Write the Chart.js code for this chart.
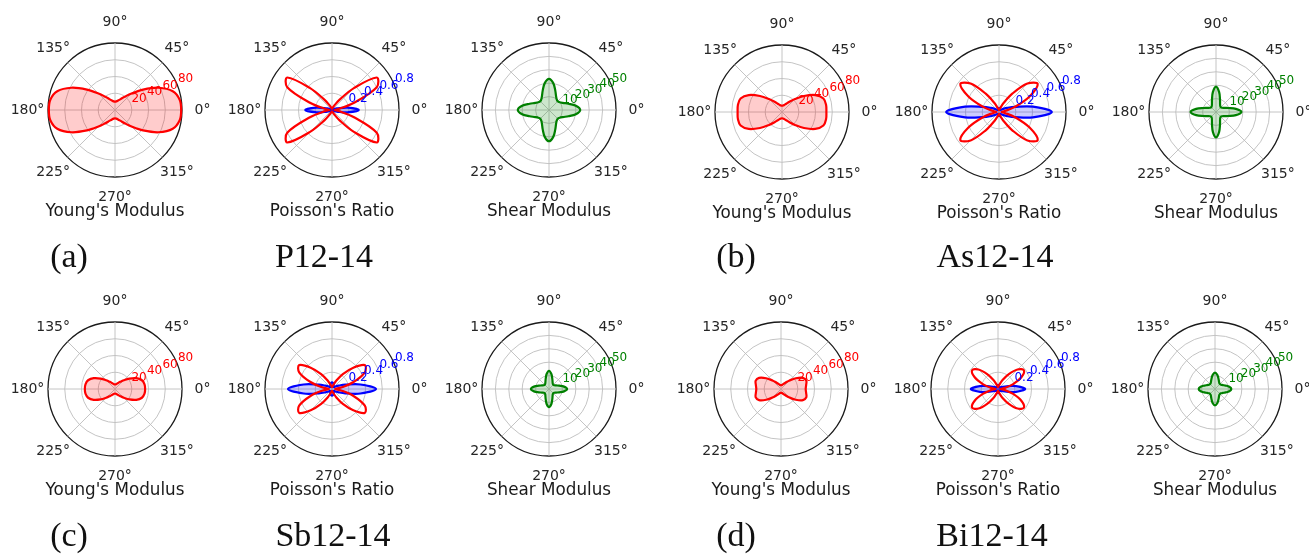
<!DOCTYPE html>
<html>
<head>
<meta charset="utf-8">
<script src="https://cdn.jsdelivr.net/npm/chart.js@4.4.1/dist/chart.umd.min.js"></script>
<style>
  html, body { margin: 0; padding: 0; background: #fff; }
  #figure { position: relative; width: 1309px; height: 554px; overflow: hidden; background: #fff; }
  #figure canvas { position: absolute; }
  .title { position: absolute; font-family: 'DejaVu Sans', sans-serif; font-size: 16.8px; line-height: 20px;
           color: #1a1a1a; white-space: nowrap; transform: translateX(-50%); }
  .tag { position: absolute; font-family: 'Liberation Serif', 'Times New Roman', serif; font-size: 34px;
         line-height: 40px; color: #111; white-space: nowrap; transform: translateX(-50%); }
</style>
</head>
<body>
<div id="figure"></div>
<script>
// Polar angle of each sample, counter-clockwise from 0°, every 9°
const thetaDeg = [0, 9, 18, 27, 36, 45, 54, 63, 72, 81, 90, 99, 108, 117, 126, 135, 144, 153, 162, 171,
                  180, 189, 198, 207, 216, 225, 234, 243, 252, 261, 270, 279, 288, 297, 306, 315, 324, 333, 342, 351];

// Angular tick labels
const angleTickDeg = [0, 45, 90, 135, 180, 225, 270, 315];
const angleTickLabels = ['0°', '45°', '90°', '135°', '180°', '225°', '270°', '315°'];

// Radial tick labels
const youngTicks = [20, 40, 60, 80];
const poissonTicks = [0.2, 0.4, 0.6, 0.8];
const shearTicks = [10, 20, 30, 40, 50];

// Young's modulus E(θ)
const youngP = [79, 78.2, 72.5, 58.5, 41.5, 28, 19.5, 14.6, 11.9, 10.4, 10, 10.4, 11.9, 14.6, 19.5, 28, 41.5, 58.5, 72.5, 78.2,
                79, 78.2, 72.5, 58.5, 41.5, 28, 19.5, 14.6, 11.9, 10.4, 10, 10.4, 11.9, 14.6, 19.5, 28, 41.5, 58.5, 72.5, 78.2];
const youngAs = [53, 53.3, 52, 44.5, 32.5, 22, 15.1, 11.1, 8.9, 7.8, 7.5, 7.8, 8.9, 11.1, 15.1, 22, 32.5, 44.5, 52, 53.3,
                 53, 53.3, 52, 44.5, 32.5, 22, 15.1, 11.1, 8.9, 7.8, 7.5, 7.8, 8.9, 11.1, 15.1, 22, 32.5, 44.5, 52, 53.3];
const youngSb = [36, 35.7, 33.8, 28.5, 21.2, 14.8, 10.6, 8, 6.5, 5.7, 5.5, 5.7, 6.5, 8, 10.6, 14.8, 21.2, 28.5, 33.8, 35.7,
                 36, 35.7, 33.8, 28.5, 21.2, 14.8, 10.6, 8, 6.5, 5.7, 5.5, 5.7, 6.5, 8, 10.6, 14.8, 21.2, 28.5, 33.8, 35.7];
const youngBi = [29.5, 30.4, 31.8, 29.3, 21.9, 14.5, 9.6, 6.9, 5.4, 4.7, 4.5, 4.7, 5.4, 6.9, 9.6, 14.5, 21.9, 29.3, 31.8, 30.4,
                 29.5, 30.4, 31.8, 29.3, 21.9, 14.5, 9.6, 6.9, 5.4, 4.7, 4.5, 4.7, 5.4, 6.9, 9.6, 14.5, 21.9, 29.3, 31.8, 30.4];

// Poisson's ratio, positive part
const poissonPosP = [0.03, 0.08, 0.27, 0.6, 0.66, 0.37, 0.15, 0.06, 0.03, 0.02, 0.015, 0.02, 0.03, 0.06, 0.15, 0.37, 0.66, 0.6, 0.27, 0.08,
                     0.03, 0.08, 0.27, 0.6, 0.66, 0.37, 0.15, 0.06, 0.03, 0.02, 0.015, 0.02, 0.03, 0.06, 0.15, 0.37, 0.66, 0.6, 0.27, 0.08];
const poissonPosAs = [0.03, 0.07, 0.2, 0.41, 0.571, 0.48, 0.27, 0.12, 0.05, 0.03, 0.02, 0.03, 0.05, 0.12, 0.27, 0.48, 0.571, 0.41, 0.2, 0.07,
                      0.03, 0.07, 0.2, 0.41, 0.571, 0.48, 0.27, 0.12, 0.05, 0.03, 0.02, 0.03, 0.05, 0.12, 0.27, 0.48, 0.571, 0.41, 0.2, 0.07];
const poissonPosSb = [0.035, 0.11, 0.27, 0.44, 0.485, 0.36, 0.22, 0.11, 0.05, 0.03, 0.022, 0.03, 0.05, 0.11, 0.22, 0.36, 0.485, 0.44, 0.27, 0.11,
                      0.035, 0.11, 0.27, 0.44, 0.485, 0.36, 0.22, 0.11, 0.05, 0.03, 0.022, 0.03, 0.05, 0.11, 0.22, 0.36, 0.485, 0.44, 0.27, 0.11];
const poissonPosBi = [0.028, 0.085, 0.19, 0.315, 0.382, 0.33, 0.22, 0.12, 0.055, 0.03, 0.022, 0.03, 0.055, 0.12, 0.22, 0.33, 0.382, 0.315, 0.19, 0.085,
                      0.028, 0.085, 0.19, 0.315, 0.382, 0.33, 0.22, 0.12, 0.055, 0.03, 0.022, 0.03, 0.055, 0.12, 0.22, 0.33, 0.382, 0.315, 0.19, 0.085];

// Poisson's ratio, magnitude of the negative part
const poissonNegP = [0.32, 0.185, 0.06, 0.027, 0.015, 0.009, 0.005, 0.003, 0, 0, 0, 0, 0, 0.003, 0.005, 0.009, 0.015, 0.027, 0.06, 0.185,
                     0.32, 0.185, 0.06, 0.027, 0.015, 0.009, 0.005, 0.003, 0, 0, 0, 0, 0, 0.003, 0.005, 0.009, 0.015, 0.027, 0.06, 0.185];
const poissonNegAs = [0.63, 0.41, 0.2, 0.108, 0.064, 0.04, 0.026, 0.028, 0.037, 0.046, 0.05, 0.046, 0.037, 0.028, 0.026, 0.04, 0.064, 0.108, 0.2, 0.41,
                      0.63, 0.41, 0.2, 0.108, 0.064, 0.04, 0.026, 0.028, 0.037, 0.046, 0.05, 0.046, 0.037, 0.028, 0.026, 0.04, 0.064, 0.108, 0.2, 0.41];
const poissonNegSb = [0.525, 0.343, 0.166, 0.088, 0.052, 0.032, 0.032, 0.044, 0.059, 0.074, 0.08, 0.074, 0.059, 0.044, 0.032, 0.032, 0.052, 0.088, 0.166, 0.343,
                      0.525, 0.343, 0.166, 0.088, 0.052, 0.032, 0.032, 0.044, 0.059, 0.074, 0.08, 0.074, 0.059, 0.044, 0.032, 0.032, 0.052, 0.088, 0.166, 0.343];
const poissonNegBi = [0.325, 0.217, 0.107, 0.057, 0.034, 0.021, 0.02, 0.028, 0.037, 0.046, 0.05, 0.046, 0.037, 0.028, 0.02, 0.021, 0.034, 0.057, 0.107, 0.217,
                      0.325, 0.217, 0.107, 0.057, 0.034, 0.021, 0.02, 0.028, 0.037, 0.046, 0.05, 0.046, 0.037, 0.028, 0.02, 0.021, 0.034, 0.057, 0.107, 0.217];

// Shear modulus G(θ)
const shearP = [23.3, 20.3, 15.2, 11.6, 9.8, 9.2, 9.8, 11.6, 15.2, 20.3, 23.3, 20.3, 15.2, 11.6, 9.8, 9.2, 9.8, 11.6, 15.2, 20.3,
                23.3, 20.3, 15.2, 11.6, 9.8, 9.2, 9.8, 11.6, 15.2, 20.3, 23.3, 20.3, 15.2, 11.6, 9.8, 9.2, 9.8, 11.6, 15.2, 20.3];
const shearAs = [19, 15, 9.7, 6.7, 5.4, 5, 5.4, 6.7, 9.7, 15, 19, 15, 9.7, 6.7, 5.4, 5, 5.4, 6.7, 9.7, 15,
                 19, 15, 9.7, 6.7, 5.4, 5, 5.4, 6.7, 9.7, 15, 19, 15, 9.7, 6.7, 5.4, 5, 5.4, 6.7, 9.7, 15];
const shearSb = [13.5, 11.3, 8, 5.9, 4.8, 4.5, 4.8, 5.9, 8, 11.3, 13.5, 11.3, 8, 5.9, 4.8, 4.5, 4.8, 5.9, 8, 11.3,
                 13.5, 11.3, 8, 5.9, 4.8, 4.5, 4.8, 5.9, 8, 11.3, 13.5, 11.3, 8, 5.9, 4.8, 4.5, 4.8, 5.9, 8, 11.3];
const shearBi = [12.2, 10.8, 8.3, 6.5, 5.5, 5.2, 5.5, 6.5, 8.3, 10.8, 12.2, 10.8, 8.3, 6.5, 5.5, 5.2, 5.5, 6.5, 8.3, 10.8,
                 12.2, 10.8, 8.3, 6.5, 5.5, 5.2, 5.5, 6.5, 8.3, 10.8, 12.2, 10.8, 8.3, 6.5, 5.5, 5.2, 5.5, 6.5, 8.3, 10.8];

// ---------------------------------------------------------------------------
const RED = '#ff0000', BLUE = '#0000ff', GREEN = '#008000';
const GRID = '#bdbdbd', SPINE = '#1a1a1a';
const R_PX = 67;          // plot radius
const HALF = 110;         // half size of each canvas

const KINDS = {
  young:   { title: "Young's Modulus", max: 80,  step: 20,  ticks: youngTicks,   color: RED,   fmt: v => String(v) },
  poisson: { title: "Poisson's Ratio", max: 0.8, step: 0.2, ticks: poissonTicks, color: BLUE,  fmt: v => v.toFixed(1) },
  shear:   { title: 'Shear Modulus',   max: 50,  step: 10,  ticks: shearTicks,   color: GREEN, fmt: v => String(v) }
};

const groups = [
  { tag: '(a)', name: 'P12-14',  x: 115, y: 110, tagX: 69,  nameX: 324, textTop: 236,
    young: youngP,  pos: poissonPosP,  neg: poissonNegP,  shear: shearP },
  { tag: '(b)', name: 'As12-14', x: 782, y: 112, tagX: 736, nameX: 995, textTop: 236,
    young: youngAs, pos: poissonPosAs, neg: poissonNegAs, shear: shearAs },
  { tag: '(c)', name: 'Sb12-14', x: 115, y: 389, tagX: 69,  nameX: 333, textTop: 515,
    young: youngSb, pos: poissonPosSb, neg: poissonNegSb, shear: shearSb },
  { tag: '(d)', name: 'Bi12-14', x: 781, y: 389, tagX: 736, nameX: 992, textTop: 515,
    young: youngBi, pos: poissonPosBi, neg: poissonNegBi, shear: shearBi }
];
const PANEL_DX = 217;

// Chart.js walks the radial scale clockwise; polar angles run counter-clockwise
const clockwise = arr => arr.map((_, i) => arr[(arr.length - i) % arr.length]);
const cwLabels = clockwise(thetaDeg);

// Angle labels around the rim and radial tick labels along the 22.5° ray
const polarLabels = {
  id: 'polarLabels',
  afterDraw(chart, args, opts) {
    const s = chart.scales.r;
    const ctx = chart.ctx;
    ctx.save();
    ctx.font = '14px "DejaVu Sans"';
    ctx.fillStyle = '#262626';
    ctx.textAlign = 'center';
    ctx.textBaseline = 'middle';
    angleTickDeg.forEach((deg, k) => {
      const idx = cwLabels.indexOf(deg);
      const p = s.getPointPosition(idx, s.drawingArea + 20.5);
      ctx.fillText(angleTickLabels[k], p.x, p.y);
    });
    const a = 22.5 * Math.PI / 180;
    ctx.font = '12px "DejaVu Sans"';
    ctx.fillStyle = opts.color;
    ctx.textAlign = 'left';
    ctx.textBaseline = 'alphabetic';
    opts.ticks.forEach(v => {
      const d = s.getDistanceFromCenterForValue(v);
      ctx.fillText(opts.fmt(v), s.xCenter + d * Math.cos(a) + 1, s.yCenter - d * Math.sin(a) - 2);
    });
    ctx.restore();
  }
};

const fig = document.getElementById('figure');

function addText(cls, text, x, top) {
  const el = document.createElement('div');
  el.className = cls;
  el.textContent = text;
  el.style.left = x + 'px';
  el.style.top = top + 'px';
  fig.appendChild(el);
}

function makePolar(cx, cy, kindName, datasets) {
  const kind = KINDS[kindName];
  const canvas = document.createElement('canvas');
  canvas.width = 2 * HALF;
  canvas.height = 2 * HALF;
  canvas.style.left = (cx - HALF) + 'px';
  canvas.style.top = (cy - HALF) + 'px';
  fig.appendChild(canvas);
  const pad = HALF - R_PX;
  const isMax = c => c.tick && Math.abs(c.tick.value - kind.max) < 1e-9;
  new Chart(canvas, {
    type: 'radar',
    data: { labels: cwLabels, datasets },
    options: {
      responsive: false,
      animation: false,
      devicePixelRatio: 1,
      events: [],
      layout: { padding: pad },
      elements: {
        point: { radius: 0, hitRadius: 0 },
        line: { tension: 0.35, borderJoinStyle: 'round', borderCapStyle: 'round' }
      },
      plugins: {
        legend: { display: false },
        tooltip: { enabled: false },
        polarLabels: { ticks: kind.ticks, color: kind.color, fmt: kind.fmt }
      },
      scales: {
        r: {
          min: 0,
          max: kind.max,
          startAngle: 90,
          ticks: { display: false, stepSize: kind.step },
          pointLabels: { display: false },
          grid: {
            circular: true,
            color: c => isMax(c) ? SPINE : GRID,
            lineWidth: c => isMax(c) ? 1.3 : 0.9
          },
          angleLines: {
            color: c => (c.index % 5 === 0 ? GRID : 'rgba(0,0,0,0)'),
            lineWidth: c => (c.index % 5 === 0 ? 0.9 : 0)
          }
        }
      }
    },
    plugins: [polarLabels]
  });
  addText('title', kind.title, cx, cy + 90);
}

function curve(values, color, fillColor) {
  return {
    data: clockwise(values),
    borderColor: color,
    borderWidth: 2.2,
    backgroundColor: fillColor || 'rgba(0,0,0,0)',
    fill: !!fillColor,
    clip: false
  };
}

groups.forEach(g => {
  makePolar(g.x, g.y, 'young', [curve(g.young, RED, 'rgba(255,0,0,0.2)')]);
  makePolar(g.x + PANEL_DX, g.y, 'poisson', [
    curve(g.pos, RED),
    curve(g.neg, BLUE, 'rgba(0,0,255,0.2)')
  ]);
  makePolar(g.x + 2 * PANEL_DX, g.y, 'shear', [curve(g.shear, GREEN, 'rgba(0,128,0,0.2)')]);
  addText('tag', g.tag, g.tagX, g.textTop);
  addText('tag', g.name, g.nameX, g.textTop);
});
</script>
</body>
</html>
